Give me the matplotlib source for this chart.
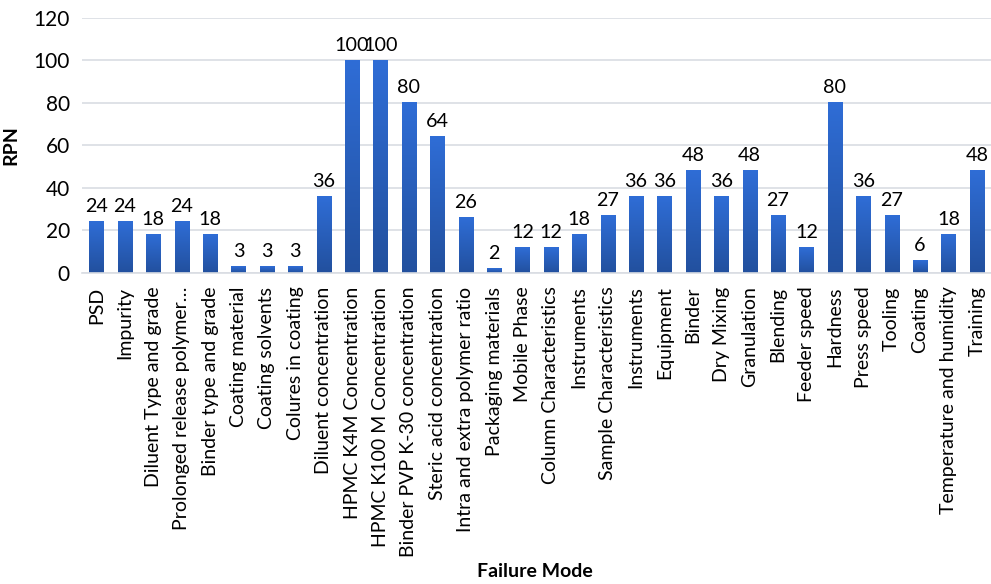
import numpy as np
import matplotlib.pyplot as plt
from matplotlib.colors import LinearSegmentedColormap

plt.rcParams['font.family'] = ['Lato', 'DejaVu Sans']

modes = ['PSD', 'Impurity', 'Diluent Type and grade', 'Prolonged release polymer…',
         'Binder type and grade', 'Coating material', 'Coating solvents',
         'Colures in coating', 'Diluent concentration', 'HPMC K4M Concentration',
         'HPMC K100 M Concentration', 'Binder PVP K-30 concentration',
         'Steric acid concentration', 'Intra and extra polymer ratio',
         'Packaging materials', 'Mobile Phase', 'Column Characteristics',
         'Instruments', 'Sample Characteristics', 'Instruments', 'Equipment',
         'Binder', 'Dry Mixing', 'Granulation', 'Blending', 'Feeder speed',
         'Hardness', 'Press speed', 'Tooling', 'Coating',
         'Temperature and humidity', 'Training']
rpn = [24, 24, 18, 24, 18, 3, 3, 3, 36, 100, 100, 80, 64, 26, 2, 12, 12, 18,
       27, 36, 36, 48, 36, 48, 27, 12, 80, 36, 27, 6, 18, 48]

fig = plt.figure(figsize=(9.91, 5.84), dpi=100)
ax = fig.add_axes([0.083, 0.533, 0.917, 0.437])

x = np.arange(len(modes))
w = 0.5
bars = ax.bar(x, rpn, width=w, color='none', zorder=2)

# vertical gradient inside every bar, dark at the bottom
cmap = LinearSegmentedColormap.from_list('g', ['#22509e', '#2f6dd6'])
grad = np.linspace(0, 1, 100).reshape(-1, 1)
for b in bars:
    bx, by = b.get_x(), b.get_y()
    bw, bh = b.get_width(), b.get_height()
    ax.imshow(grad, cmap=cmap, origin='lower', aspect='auto',
              extent=[bx, bx + bw, by, by + bh], zorder=2)

for xi, v in zip(x, rpn):
    ax.text(xi, v + 3, str(v), ha='center', va='bottom', fontsize=14.2, color='#000000')

ax.set_xlim(-0.5, len(modes) - 0.5)
ax.set_ylim(0, 120)
ax.set_yticks(range(0, 121, 20))
ax.set_xticks(x)
ax.set_xticklabels(modes, rotation=90, fontsize=14)
ax.tick_params(axis='y', labelsize=15, length=0, pad=9)
ax.tick_params(axis='x', length=0, pad=10)
ax.yaxis.grid(True, color='#d9dde3', linewidth=1.2, zorder=0)
ax.set_axisbelow(True)
for s in ['top', 'right', 'left']:
    ax.spines[s].set_visible(False)
ax.spines['bottom'].set_color('#d9dde3')
ax.spines['bottom'].set_linewidth(1.2)

ax.set_ylabel('RPN', fontsize=14, fontweight='bold', labelpad=10)
fig.text(0.54, 0.012, 'Failure Mode', ha='center', fontsize=14, fontweight='bold')

fig.savefig('out.png', dpi=100, facecolor='white')
